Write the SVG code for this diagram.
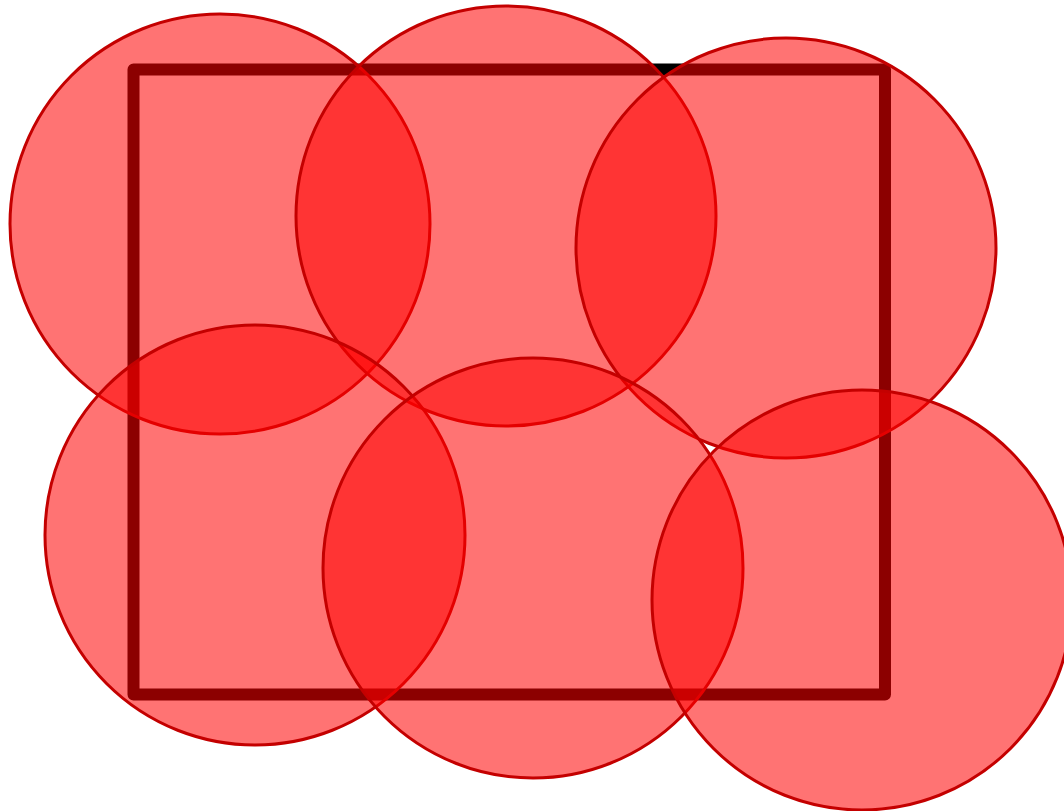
<svg xmlns="http://www.w3.org/2000/svg" width="1064" height="811" viewBox="0 0 1064 811">
<style>
.c{fill:#ff0000;fill-opacity:0.55;stroke:#c40000;stroke-width:3}
</style>
<rect width="1064" height="811" fill="#fff"/>
<rect id="frame" x="133.5" y="69.5" width="751.5" height="625" fill="none" stroke="#000" stroke-width="12" stroke-linejoin="round"/>
<g id="circles">
<circle id="c1" class="c" cx="220" cy="224" r="210"/>
<circle id="c2" class="c" cx="506" cy="216" r="210"/>
<circle id="c3" class="c" cx="786" cy="248" r="210"/>
<circle id="c4" class="c" cx="255" cy="535" r="210"/>
<circle id="c5" class="c" cx="533" cy="568" r="210"/>
<circle id="c6" class="c" cx="862" cy="600" r="210"/>
</g>
</svg>
